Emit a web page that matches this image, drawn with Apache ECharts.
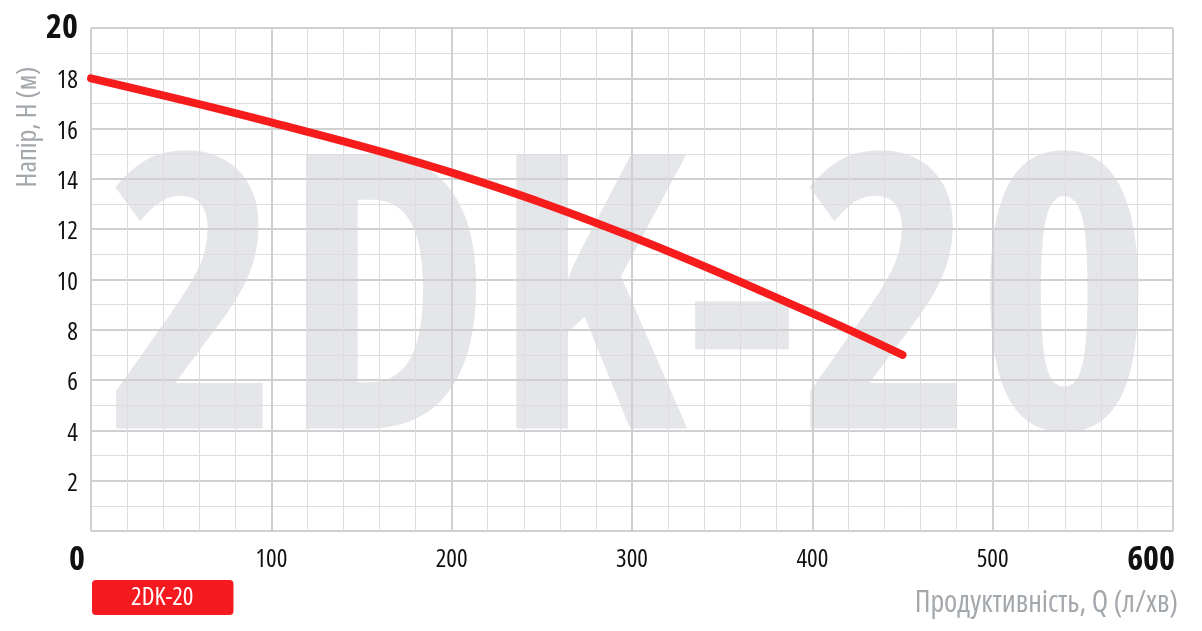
<!DOCTYPE html>
<html>
<head>
<meta charset="utf-8">
<script src="https://cdn.jsdelivr.net/npm/echarts@6/dist/echarts.min.js"></script>
<style>
html,body{margin:0;padding:0;background:#fff;}
#chart{width:1202px;height:631px;}
</style>
</head>
<body>
<div id="chart"></div>
<script>
// ---- data ----
const seriesName = '2DK-20';
const flowQ = [0, 100, 200, 300, 400, 450];          // л/хв
const headH = [18.0, 16.25, 14.25, 11.7, 8.65, 7.0];  // м
const boldXLabels = [0, 600];
const boldYLabels = [20];
const xTitle = 'Продуктивність, Q (л/хв)';
const yTitle = 'Напір, Н (м)';
const watermark = '2DK-20';

const FAM = "'Open Sans', 'Roboto Condensed', sans-serif";
const NARROW = 'condensed';            // font-stretch injected into the font string
const NARROW_BOLD = 'bold condensed';
const chart = echarts.init(document.getElementById('chart'));

const lineData = flowQ.map((q, i) => [q, headH[i]]);

chart.setOption({
  animation: false,
  backgroundColor: '#ffffff',
  grid: { left: 91, right: 29, top: 28, bottom: 100, containLabel: false },
  legend: {
    left: 92, top: 580,
    data: [{ name: seriesName, icon: 'none' }],
    itemWidth: 0, itemHeight: 0, itemGap: 0,
    backgroundColor: '#f41a1f',
    borderRadius: 4,
    padding: [5, 40, 5, 34],
    selectedMode: false,
    textStyle: { color: '#ffffff', fontSize: 25, fontFamily: FAM, fontWeight: NARROW }
  },
  graphic: [
    {
      type: 'text', z: -10, silent: true,
      x: 629, y: 319, scaleX: 0.965, scaleY: 0.985,
      style: {
        text: watermark,
        fill: '#e4e6e9',
        font: "bold condensed 390px " + FAM,
        textAlign: 'center', textVerticalAlign: 'middle'
      }
    },
    {
      type: 'text', silent: true,
      x: 28, y: 127, rotation: Math.PI / 2,
      style: {
        text: yTitle, fill: '#a3a8ad',
        font: "condensed 28px " + FAM,
        textAlign: 'center', textVerticalAlign: 'middle'
      }
    },
    {
      type: 'text', silent: true,
      x: 1178, y: 603,
      style: {
        text: xTitle, fill: '#a3a8ad',
        font: "condensed 30px " + FAM,
        textAlign: 'right', textVerticalAlign: 'middle'
      }
    }
  ],
  xAxis: {
    type: 'value', min: 0, max: 600, interval: 100,
    axisLine: { show: false }, axisTick: { show: false },
    minorTick: { show: false, splitNumber: 5 },
    splitLine: { show: true, lineStyle: { color: '#d0d0d0', width: 2 } },
    minorSplitLine: { show: true, lineStyle: { color: '#dddddd', width: 1 } },
    axisLabel: {
      margin: 10,
      alignMinLabel: 'right', alignMaxLabel: 'right',
      formatter: v => v === 0 ? '{b0|' + v + '}' : (boldXLabels.includes(v) ? '{b|' + v + '}' : '{r|' + v + '}'),
      rich: {
        b0: { fontSize: 34, fontWeight: NARROW_BOLD, color: '#111', fontFamily: FAM, lineHeight: 38, padding: [0, 6, 0, 0] },
        b: { fontSize: 34, fontWeight: NARROW_BOLD, color: '#111', fontFamily: FAM, lineHeight: 38, padding: [0, -2, 0, 0] },
        r: { fontSize: 25, fontWeight: NARROW, color: '#111', fontFamily: FAM, lineHeight: 38 }
      }
    }
  },
  yAxis: {
    type: 'value', min: 0, max: 20, interval: 2,
    axisLine: { show: false }, axisTick: { show: false },
    minorTick: { show: false, splitNumber: 2 },
    splitLine: { show: true, lineStyle: { color: '#d0d0d0', width: 2 } },
    minorSplitLine: { show: true, lineStyle: { color: '#dddddd', width: 1 } },
    axisLabel: {
      margin: 13,
      showMinLabel: false,
      formatter: v => v === 0 ? '' : (boldYLabels.includes(v) ? '{b|' + v + '}' : '{r|' + v + '}'),
      rich: {
        b: { fontSize: 34, fontWeight: NARROW_BOLD, color: '#111', fontFamily: FAM },
        r: { fontSize: 25, fontWeight: NARROW, color: '#111', fontFamily: FAM, padding: [6, 0, 0, 0] }
      }
    }
  },
  series: [{
    name: seriesName,
    type: 'line',
    data: lineData,
    smooth: 0.4,
    showSymbol: false,
    color: '#f41a1f',
    lineStyle: { width: 8, color: '#f71c1c', cap: 'round' },
    z: 5
  }]
});
</script>
</body>
</html>
